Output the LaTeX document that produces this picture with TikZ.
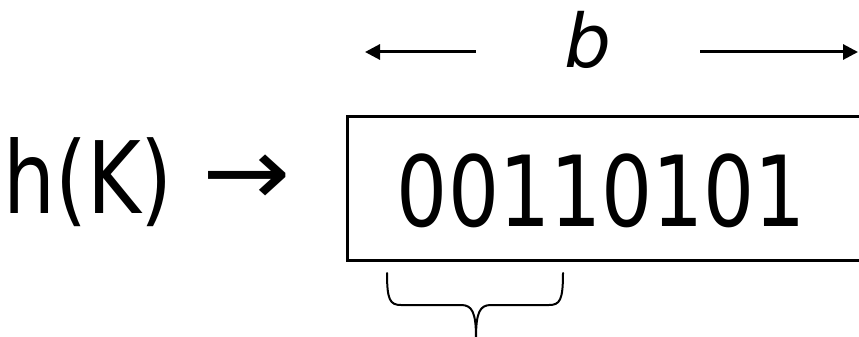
\documentclass[tikz,border=0pt]{standalone}
\usepackage{fontspec}
\setmainfont[FakeStretch=0.82]{DejaVu Sans}
\newfontfamily\plainfont{DejaVu Sans}
\newfontfamily\arrowfont[FakeStretch=1.1]{DejaVu Sans}
\usetikzlibrary{
	arrows.meta,
	positioning
}
\tikzset{
  % arrow
	cstwra/.style     ={-{Triangle[length=15pt,width=15pt]}, line width=3pt},
  % box
	cstbox/.style     ={draw=black, line width=3pt, minimum width=523pt, minimum height=144pt, inner sep=0pt},
  % brace
	cstbrace/.style   ={line width=2pt, line cap=round},
  % text
	csttext/.style    ={font=\fontsize{98}{100}\selectfont, inner sep=0pt},
	cstsym/.style     ={font=\arrowfont\fontsize{96}{100}\selectfont, inner sep=0pt},
	cstlabel/.style   ={font=\plainfont\itshape\fontsize{74}{76}\selectfont, inner sep=0pt}
}
\begin{document}
\begin{tikzpicture}[x=1pt,y=-1pt]
	\useasboundingbox (0,0) rectangle (859,337);
	% register
	\node[cstbox] (box) at (608.5,188) {};
	\node[csttext,anchor=base] (bits) at (601.5,226) {00110101};
	\node[csttext,font=\fontsize{100}{100}\selectfont,anchor=base west] (hk) at (3,213) {h(K)};
	\node[cstsym,anchor=base] (to) at (247,205) {→};
	% width
	\node[cstlabel,minimum width=224pt] (b) at (588,40) {b};
	\coordinate (bl) at (365,52);
	\coordinate (br) at (858,52);
	\draw[cstwra] ([yshift=-12pt]b.west) -- (bl);
	\draw[cstwra] ([yshift=-12pt]b.east) -- (br);
	% prefix
	\coordinate (pl) at (387,273);
	\coordinate (pm) at (476,338);
	\coordinate (pr) at (563,273);
	\draw[cstbrace] (pl) .. controls (387,300) and (390,305) .. (401,305)
		-- (461,305) .. controls (472,305) and (476,312) .. (pm)
		.. controls (476,312) and (480,305) .. (491,305)
		-- (549,305) .. controls (560,305) and (563,300) .. (pr);
\end{tikzpicture}
\end{document}
